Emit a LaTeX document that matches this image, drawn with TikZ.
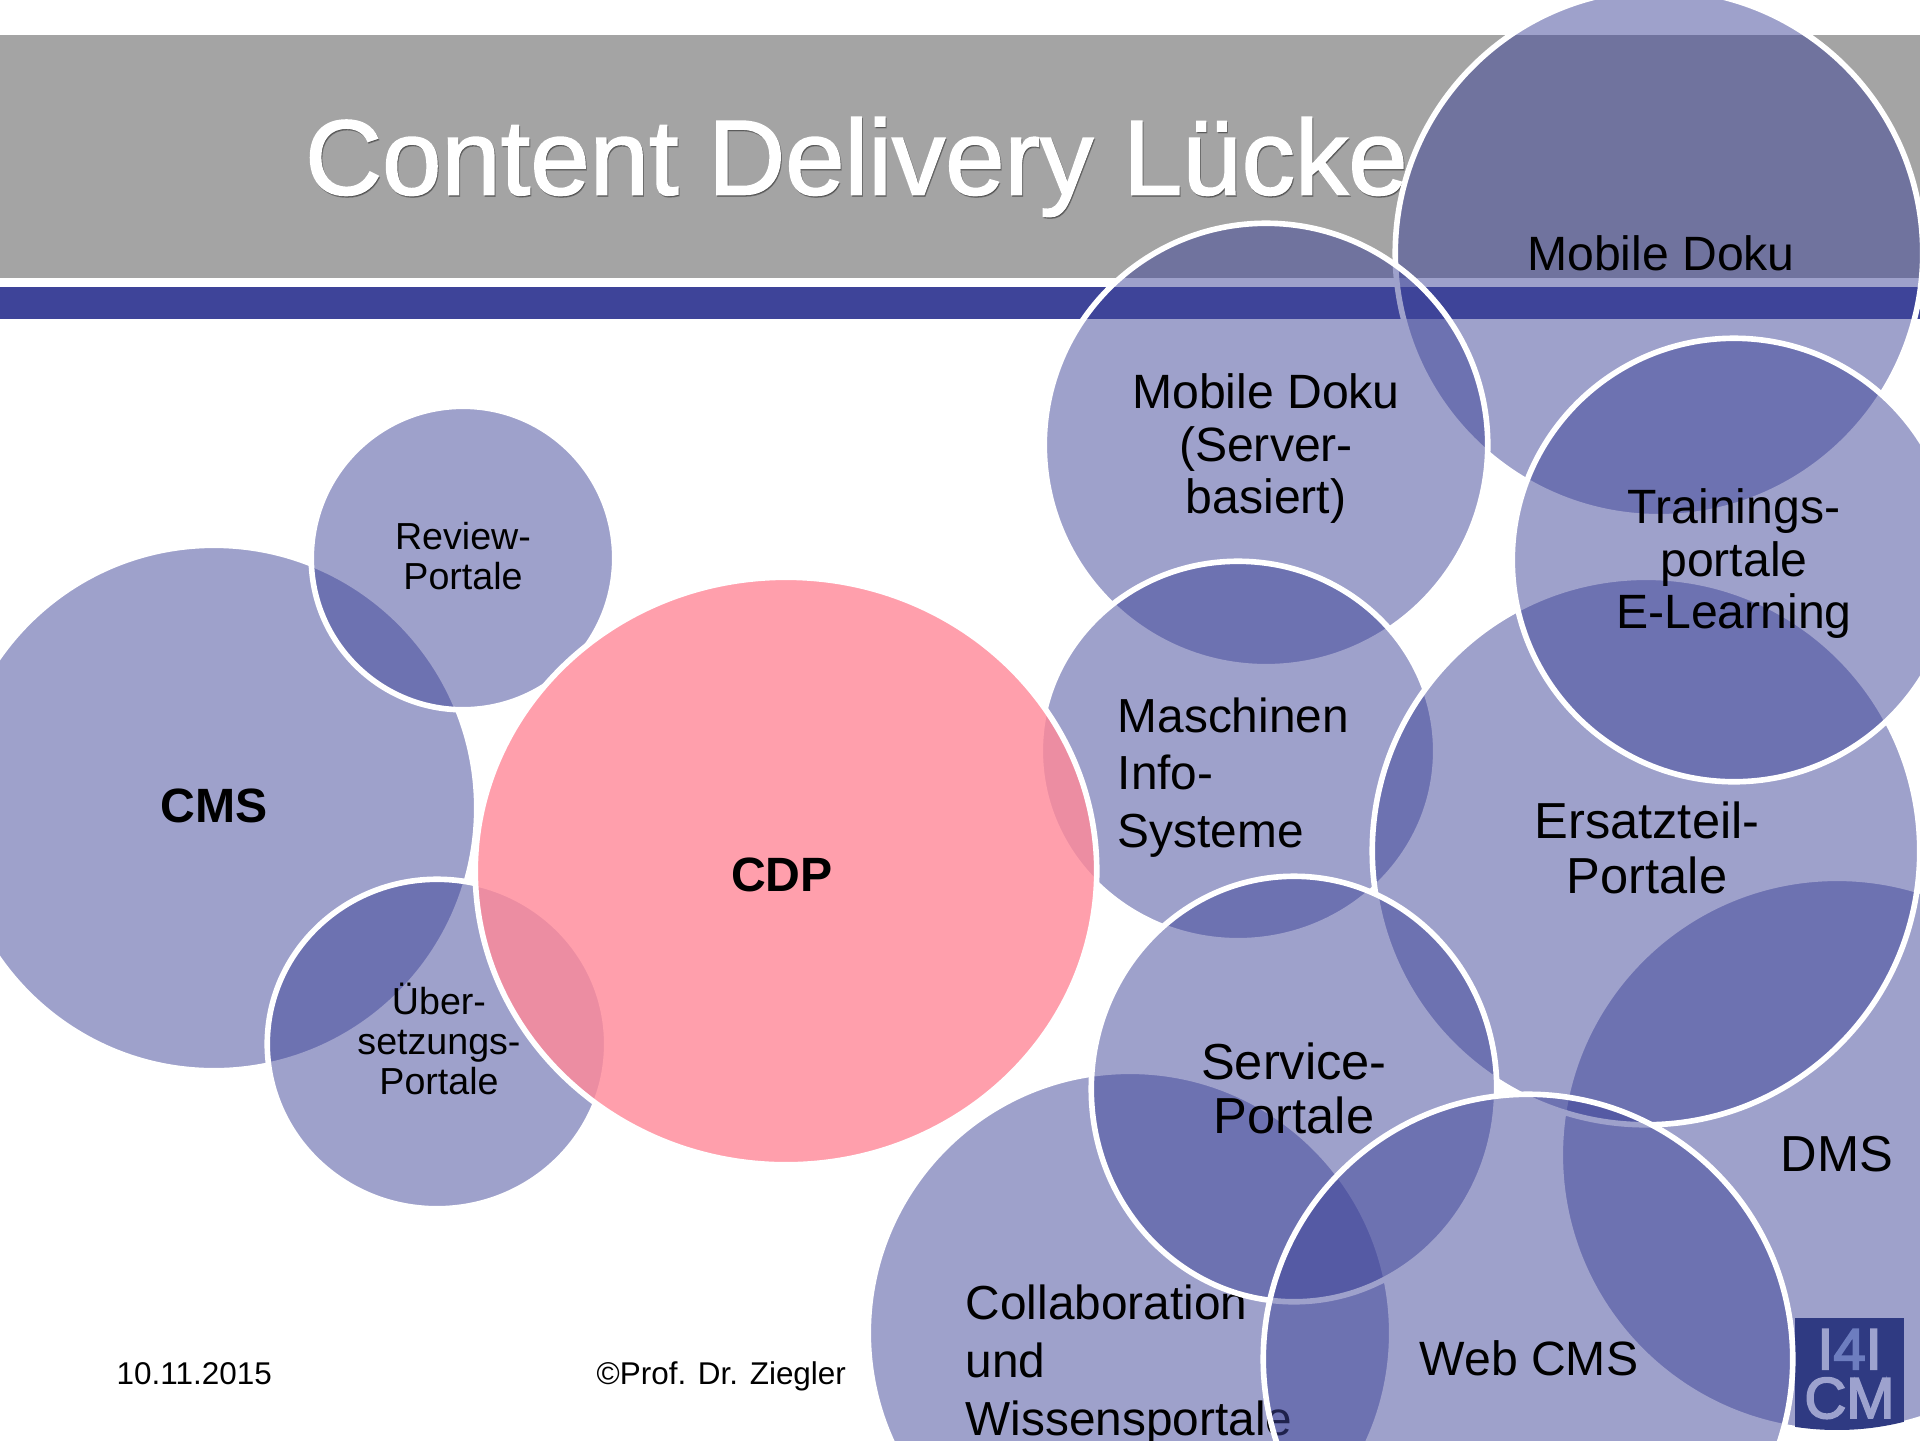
\documentclass[tikz,border=0pt]{standalone}
\usepackage{fontspec}
\setmainfont{Liberation Sans}
\usetikzlibrary{shapes.geometric}
\definecolor{barblue}{HTML}{3E4499}
\definecolor{headgray}{HTML}{A4A4A4}
\definecolor{cdppink}{HTML}{FF8999}
\definecolor{logoblue}{HTML}{2F3A82}
\definecolor{logolight}{HTML}{9DA2CE}
\definecolor{logomid}{HTML}{6D7DBF}
\newfontfamily\heavyfont[FakeBold = 1.5]{Liberation Sans}
\newfontfamily\logofont[FakeBold = 3]{Liberation Sans}
\tikzset{
  bubble/.style = {ellipse, inner sep = 0pt, outer sep = 0pt, align = center, draw = white,
    line width = 1.6pt, fill = barblue, fill opacity = 0.5, text opacity = 1,
    font = \fontsize{13.7}{15}\selectfont},
  cdpbubble/.style = {bubble, fill = cdppink, fill opacity = 0.81},
  dia/.style 2 args = {minimum width = #1cm + 0.035cm, minimum height = #2cm + 0.035cm},
  bigtext/.style = {align = center, inner sep = 0pt, font = \fontsize{13.7}{15}\selectfont},
  widetext/.style = {align = center, inner sep = 0pt, font = \fontsize{14.4}{15.5}\selectfont},
  smalltext/.style = {align = center, inner sep = 0pt, font = \fontsize{10.7}{11.4}\selectfont},
  boldlabel/.style = {inner sep = 0pt, font = \fontsize{13.7}{15}\selectfont\bfseries},
  sidelabel/.style = {anchor = west, align = left, inner sep = 0pt,
    font = \fontsize{13.6}{16.4}\selectfont},
  footer/.style = {anchor = base west, inner sep = 0pt,
    font = \fontsize{8.95}{10}\selectfont},
  titletext/.style = {anchor = base, inner sep = 0pt,
    font = \heavyfont\fontsize{30.35}{32}\selectfont}
}
\begin{document}
\begin{tikzpicture}[y = -1cm]
    \clip (0, 0) rectangle (19.2, 14.4);
    \fill[white] (0, 0) rectangle (19.2, 14.4);
    % header
    \fill[headgray] (0, 0.35) rectangle (19.2, 2.78);
    \fill[barblue] (0, 2.87) rectangle (19.2, 3.19);
    \node[titletext, text = black, opacity = 0.3] (titleshadow) at (8.575, 1.96) {Content Delivery Lücke};
    \node[titletext, text = white] (title) at (8.565, 1.945) {Content Delivery Lücke};
    \node[footer] (date) at (1.16, 13.84) {10.11.2015};
    \node[footer] (copyright) at (5.96, 13.84) {©Prof. Dr. Ziegler};
    % right side, back to front
    \node[bubble, dia = {5.5}{5.5}] (dms) at (18.37, 11.55) {};
    \node[widetext] (dmstext) at (18.37, 11.54) {DMS};
    \begin{scope}
    \clip (18.37, 11.55) circle (2.75);
    \node[rectangle, fill = logoblue, minimum width = 1.09cm, minimum height = 1.12cm,
      inner sep = 0pt, align = center, text = logolight,
      font = \logofont\fontsize{16.5}{13.9}\selectfont] (logo) at (18.495, 13.74)
      {I{\color{logomid}4}I\\CM};
    \end{scope}
    \node[bubble, dia = {5.2}{5.2}] (collab) at (11.3, 13.33) {};
    \node[sidelabel] (collabtext) at (9.65, 13.65) {Collaboration\\und\\Wissensportale};
    \node[bubble, dia = {5.24}{5.24}] (mobile) at (16.59, 2.53) {};
    \node[bigtext] (mobiletext) at (16.61, 2.53) {Mobile Doku};
    \node[bubble, dia = {4.4}{4.4}] (server) at (12.66, 4.45) {};
    \node[bigtext] (servertext) at (12.66, 4.487) {Mobile Doku\\(Server-\\basiert)};
    \node[bubble, dia = {3.92}{3.76}] (maschinen) at (12.38, 7.51) {};
    \node[sidelabel] (maschinentext) at (11.17, 7.775) {Maschinen\\Info-\\Systeme};
    \node[bubble, dia = {5.44}{5.44}] (ersatz) at (16.46, 8.51) {};
    \node[widetext] (ersatztext) at (16.47, 8.48) {Ersatzteil-\\Portale};
    \node[bubble, dia = {4.4}{4.4}] (training) at (17.34, 5.6) {};
    \node[bigtext] (trainingtext) at (17.34, 5.637) {Trainings-\\portale\\E-Learning};
    \node[bubble, dia = {4.02}{4.22}] (service) at (12.94, 10.89) {};
    \node[widetext] (servicetext) at (12.94, 10.885) {Service-\\Portale};
    \node[bubble, dia = {5.26}{5.26}] (webcms) at (15.28, 13.59) {};
    \node[bigtext] (webcmstext) at (15.29, 13.58) {Web CMS};
    % left side
    \node[bubble, dia = {5.22}{5.22}] (cms) at (2.14, 8.08) {};
    \node[boldlabel] (cmstext) at (2.14, 8.06) {CMS};
    \node[bubble, dia = {3.0}{3.0}] (review) at (4.63, 5.58) {};
    \node[smalltext] (reviewtext) at (4.63, 5.56) {Review-\\Portale};
    \node[bubble, dia = {3.36}{3.26}] (trans) at (4.37, 10.44) {};
    \node[smalltext] (transtext) at (4.39, 10.39) {Über-\\setzungs-\\Portale};
    \node[cdpbubble, dia = {6.18}{5.84}] (cdp) at (7.86, 8.71) {};
    \node[boldlabel] (cdptext) at (7.82, 8.75) {CDP};
\end{tikzpicture}
\end{document}
